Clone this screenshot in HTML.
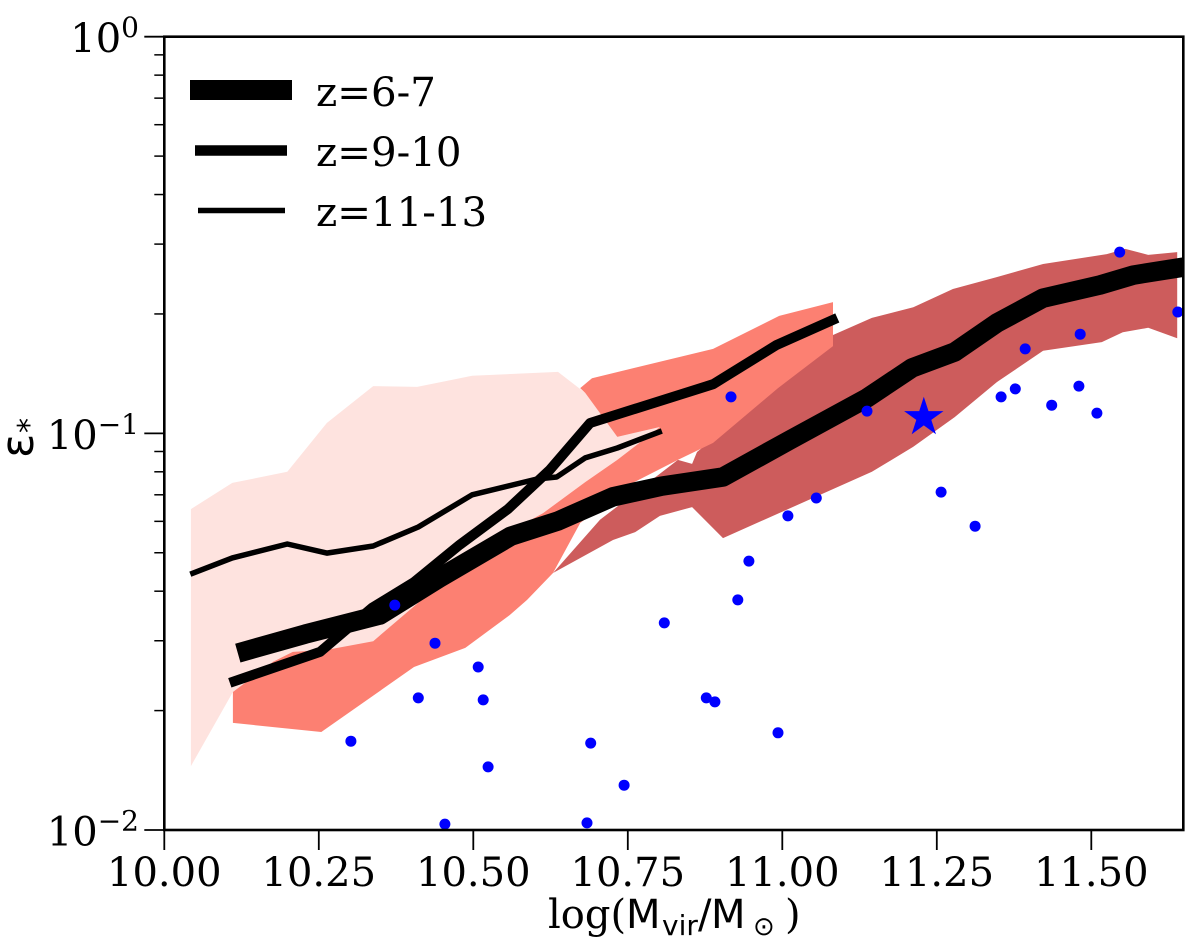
<!DOCTYPE html>
<html>
<head>
<meta charset="utf-8">
<title>Star formation efficiency vs halo mass</title>
<style>
html,body{margin:0;padding:0;background:#fff;width:1200px;height:944px;overflow:hidden}
svg{display:block}
text{font-family:"DejaVu Serif","Liberation Serif",serif;fill:#000}
.sans{font-family:"DejaVu Sans","Liberation Sans",sans-serif}
</style>
</head>
<body>
<svg id="chart" xmlns="http://www.w3.org/2000/svg" width="1200" height="944" viewBox="0 0 1200 944">
  <defs><clipPath id="plot-clip"><rect x="164.3" y="36.7" width="1019" height="793.3"/></clipPath></defs>
  <g id="plot" clip-path="url(#plot-clip)"></g>
  <g id="axes"></g>
  <g id="legend">
    <line x1="190" x2="292" y1="90" y2="90" stroke="#000" stroke-width="20"/>
    <text x="316" y="106" font-size="40.3">z=6-7</text>
    <line x1="195" x2="287" y1="150.500" y2="150.500" stroke="#000" stroke-width="10.500"/>
    <text x="316" y="166" font-size="40.3">z=9-10</text>
    <line x1="198" x2="285" y1="210.500" y2="210.500" stroke="#000" stroke-width="5.500"/>
    <text x="316" y="226" font-size="40.3">z=11-13</text>
  </g>
  <g>
    <text x="548" y="928" font-size="40">log(</text>
    <text class="sans" x="626" y="928" font-size="40">M</text>
    <text class="sans" x="662" y="935" font-size="28">vir</text>
    <text class="sans" x="698" y="928" font-size="40">/</text>
    <text class="sans" x="711" y="928" font-size="40">M</text>
    <text class="sans" x="753" y="935" font-size="26">⊙</text>
    <text x="785" y="928" font-size="40">)</text>
  </g>
  <g>
    <text class="sans" transform="translate(33,458) rotate(-90)" font-size="45">ε</text>
    <text class="sans" transform="translate(39,433) rotate(-90)" font-size="30">*</text>
  </g>
</svg>
<script>
// x values are log10(Mvir/Msun); y values are log10(epsilon*)
const xTickValues = [10.00, 10.25, 10.50, 10.75, 11.00, 11.25, 11.50];
const xTickLabels = ["10.00", "10.25", "10.50", "10.75", "11.00", "11.25", "11.50"];
const yDecades = [0, -1, -2];
const yDecadeLabels = ["0", "−1", "−2"];
const yMinorFactors = [2, 3, 4, 5, 6, 7, 8, 9];

const bandZ11X = [10.043,10.110,10.199,10.263,10.338,10.409,10.498,10.637,10.681,10.733,10.802,10.733,10.681,10.613,10.490,10.341,10.254,10.111,10.043];
const bandZ11Y = [-1.191,-1.125,-1.097,-0.974,-0.881,-0.883,-0.855,-0.845,-0.898,-1.009,-0.984,-1.067,-1.123,-1.201,-1.319,-1.521,-1.622,-1.652,-1.839];

const bandZ6X = [10.629,10.705,10.831,10.854,10.862,10.993,11.082,11.145,11.212,11.276,11.347,11.422,11.525,11.555,11.592,11.639,11.639,11.592,11.551,11.517,11.422,11.347,11.279,11.212,11.145,10.904,10.854,10.802,10.762,10.726];
const bandZ6Y = [-1.352,-1.218,-1.067,-1.077,-1.047,-0.878,-0.752,-0.709,-0.682,-0.636,-0.606,-0.573,-0.548,-0.535,-0.550,-0.543,-0.760,-0.734,-0.745,-0.770,-0.792,-0.871,-0.959,-1.034,-1.097,-1.264,-1.186,-1.208,-1.249,-1.269];

const bandZ9X = [10.111,10.176,10.208,10.263,10.338,10.435,10.490,10.613,10.681,10.733,10.802,10.733,10.681,10.673,10.692,10.888,10.995,11.082,11.082,10.993,10.888,10.831,10.758,10.673,10.629,10.587,10.559,10.487,10.404,10.254,10.111];
const bandZ9Y = [-1.652,-1.576,-1.551,-1.546,-1.524,-1.395,-1.307,-1.201,-1.123,-1.067,-0.984,-1.009,-0.898,-0.886,-0.861,-0.787,-0.704,-0.669,-0.780,-0.886,-1.024,-1.067,-1.125,-1.226,-1.352,-1.420,-1.458,-1.541,-1.589,-1.753,-1.730];

const lineZ6X = [10.119,10.228,10.349,10.445,10.561,10.637,10.726,10.805,10.904,11.012,11.137,11.210,11.279,11.347,11.422,11.514,11.568,11.660];
const lineZ6Y = [-1.554,-1.506,-1.458,-1.365,-1.259,-1.221,-1.160,-1.133,-1.110,-1.017,-0.911,-0.835,-0.795,-0.722,-0.659,-0.626,-0.601,-0.578];

const lineZ9X = [10.106,10.252,10.336,10.404,10.478,10.556,10.624,10.689,10.888,10.991,11.089];
const lineZ9Y = [-1.629,-1.551,-1.440,-1.375,-1.281,-1.191,-1.092,-0.974,-0.876,-0.777,-0.709];

const lineZ11X = [10.042,10.110,10.199,10.263,10.338,10.411,10.498,10.603,10.635,10.681,10.733,10.805];
const lineZ11Y = [-1.355,-1.314,-1.279,-1.302,-1.284,-1.236,-1.155,-1.115,-1.110,-1.062,-1.037,-0.994];

const galaxyX = [10.373,10.438,10.508,10.516,10.411,10.302,10.524,10.454,10.809,10.877,10.891,10.690,10.744,10.684,10.993,10.928,10.946,11.009,11.055,10.917,11.137,11.257,11.312,11.354,11.377,11.393,11.482,11.480,11.436,11.509,11.546,11.640];
const galaxyY = [-1.433,-1.529,-1.589,-1.672,-1.667,-1.776,-1.841,-1.985,-1.478,-1.667,-1.677,-1.781,-1.887,-1.982,-1.755,-1.420,-1.322,-1.208,-1.163,-0.908,-0.944,-1.148,-1.234,-0.908,-0.888,-0.787,-0.750,-0.881,-0.929,-0.949,-0.543,-0.694];

const starX = [11.229];
const starY = [-0.960];

const NS = "http://www.w3.org/2000/svg";
const LEFT = 164.3, RIGHT = 1183.3, TOP = 36.7, BOTTOM = 830;
const PX_PER_X = 618, PX_PER_DECADE = 396.65;
function xScale(v){ return LEFT + (v - 10) * PX_PER_X; }
function yScale(v){ return TOP - v * PX_PER_DECADE; }
function pts(xs, ys){ return xs.map(function(v, i){ return xScale(v).toFixed(1) + "," + yScale(ys[i]).toFixed(1); }).join(" "); }
function add(parent, tag, attrs, txt){
  const el = document.createElementNS(NS, tag);
  for (const k in attrs) el.setAttribute(k, attrs[k]);
  if (txt !== undefined) el.textContent = txt;
  parent.appendChild(el);
  return el;
}
const plot = document.getElementById("plot");
const axes = document.getElementById("axes");

const pinkBand = add(plot, "polygon", {points: pts(bandZ11X, bandZ11Y), fill: "#fee3df"});



const redBand = add(plot, "polygon", {points: pts(bandZ6X, bandZ6Y), fill: "#cd5c5c"});



const salmonBand = add(plot, "polygon", {points: pts(bandZ9X, bandZ9Y), fill: "#fc8072"});



const lineA = add(plot, "polyline", {points: pts(lineZ6X, lineZ6Y), fill: "none", stroke: "#000", "stroke-width": 19.5, "stroke-linejoin": "round"});



const lineB = add(plot, "polyline", {points: pts(lineZ9X, lineZ9Y), fill: "none", stroke: "#000", "stroke-width": 10, "stroke-linejoin": "round"});



const lineC = add(plot, "polyline", {points: pts(lineZ11X, lineZ11Y), fill: "none", stroke: "#000", "stroke-width": 5.5, "stroke-linejoin": "round"});



galaxyX.forEach(function(v, i){
  const dot = add(plot, "circle", {cx: xScale(v).toFixed(1), cy: yScale(galaxyY[i]).toFixed(1), r: 5.5, fill: "#0000ff"});
  
  
});

starX.forEach(function(v, i){
  const cx = xScale(v), cy = yScale(starY[i]), R = 20.7, r = R * 0.382;
  const p = [];
  for (let k = 0; k < 10; k++) {
    const a = -Math.PI / 2 + k * Math.PI / 5, q = k % 2 ? r : R;
    p.push((cx + q * Math.cos(a)).toFixed(1) + "," + (cy + q * Math.sin(a)).toFixed(1));
  }
  const star = add(plot, "polygon", {points: p.join(" "), fill: "#0000ff"});
  
  
});

xTickValues.forEach(function(v, i){
  const px = xScale(v);
  const t = add(axes, "line", {x1: px, x2: px, y1: BOTTOM, y2: BOTTOM + 20, stroke: "#000", "stroke-width": 1.8});
  
  
  const l = add(axes, "text", {x: px, y: 886, "font-size": 40, "text-anchor": "middle"}, xTickLabels[i]);
  
  
});

yDecades.forEach(function(d, i){
  const py = yScale(d);
  const t = add(axes, "line", {x1: LEFT - 20, x2: LEFT, y1: py, y2: py, stroke: "#000", "stroke-width": 1.8});
  
  
  const l = add(axes, "text", {x: 139, y: py + 15.500, "font-size": 40, "text-anchor": "end"}, "10");
  add(l, "tspan", {dy: -15, "font-size": 28}, yDecadeLabels[i]);
  
  
  if (d > -2) {
    yMinorFactors.forEach(function(f){
      const my = yScale(d - 1 + Math.log10(f));
      const m = add(axes, "line", {x1: LEFT - 10, x2: LEFT, y1: my, y2: my, stroke: "#000", "stroke-width": 1.5});
      
      
    });
  }
});

const frame = add(axes, "rect", {x: LEFT, y: TOP, width: RIGHT - LEFT, height: BOTTOM - TOP, fill: "none", stroke: "#000", "stroke-width": 2.6});


</script>
</body>
</html>
